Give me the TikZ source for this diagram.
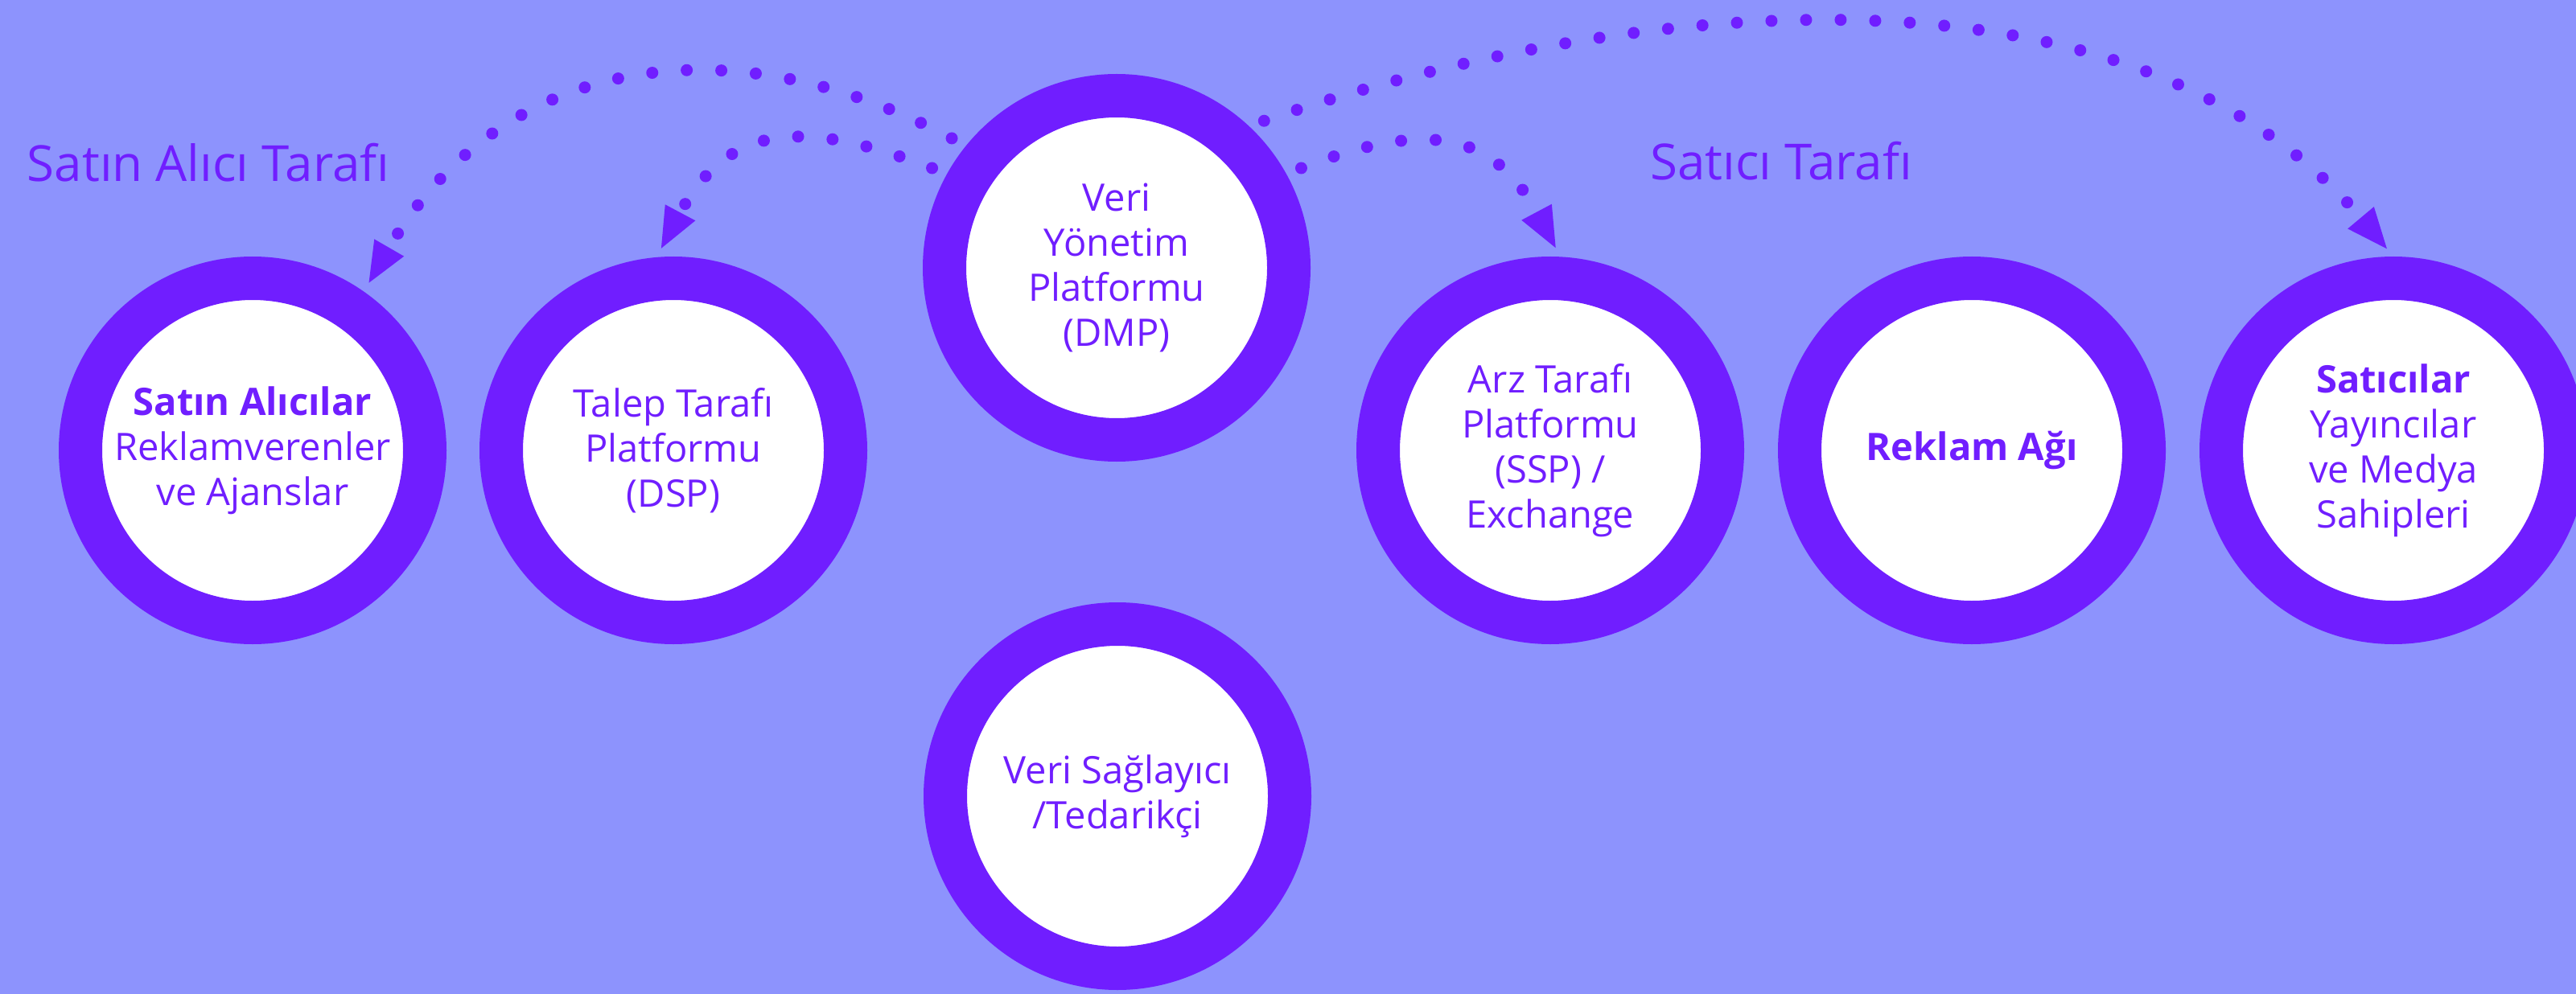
\documentclass[tikz,border=0pt]{standalone}
\usepackage{fontspec}
\setmainfont{Open Sans}
\usepackage{xcolor}
\usetikzlibrary{arrows.meta,positioning}

\definecolor{bgblue}{RGB}{141,147,253}
\definecolor{ringviolet}{RGB}{112,30,255}

\begin{document}
\begin{tikzpicture}[
    actor/.style={circle, draw=ringviolet, fill=white, line width=0.54cm, minimum size=4.28cm, inner sep=0pt, align=center, text=ringviolet, font=\fontsize{13.4}{15.9}\selectfont},
    side/.style={text=ringviolet, font=\fontsize{17.6}{20}\selectfont, anchor=base},
    dotarc/.style={ringviolet, line width=0.15cm, line cap=round, dash pattern=on 0pt off 0.43cm, -{Triangle[length=0.53cm, width=0.38cm]}, shorten <=0.2cm, shorten >=0.1cm}
]

% Background
\fill[bgblue] (0,0) rectangle (32.02,-12.36);
\useasboundingbox (0,0) rectangle (32.02,-12.36);
\clip (0,0) rectangle (32.02,-12.36);

% Side labels
\node[side] (buyside) at (2.59,-2.26) {Satın Alıcı Tarafı};
\node[side] (sellside) at (22.14,-2.24) {Satıcı Tarafı};

% Main circles
\node[actor] (buyer) at (3.14,-5.60) {\textbf{Satın Alıcılar}\\Reklamverenler\\ve Ajanslar};
\node[actor] (dsp) at (8.37,-5.60) {Talep Tarafı\\Platformu\\(DSP)};
\node[actor] (dmp) at (13.88,-3.33) {Veri\\Yönetim\\Platformu\\(DMP)};
\node[actor] (provider) at (13.89,-9.90) {Veri Sağlayıcı\\/Tedarikçi};
\node[actor] (ssp) at (19.27,-5.60) {Arz Tarafı\\Platformu\\(SSP) /\\Exchange};
\node[actor] (adnet) at (24.51,-5.60) {\textbf{Reklam Ağı}};
\node[actor] (seller) at (29.75,-5.60) {\textbf{Satıcılar}\\Yayıncılar\\ve Medya\\Sahipleri};

% Dotted arcs
\draw[dotarc] (dmp.141) to[out=152, in=60, looseness=1.12] (buyer.55);
\draw[dotarc] (dmp.151) to[out=159, in=62, looseness=1.3] (dsp.95);
\draw[dotarc] (dmp.29) to[out=21, in=118, looseness=1.3] (ssp.87);
\draw[dotarc] (dmp.47) to[out=19, in=130, looseness=0.9] (seller.90);

\end{tikzpicture}
\end{document}
